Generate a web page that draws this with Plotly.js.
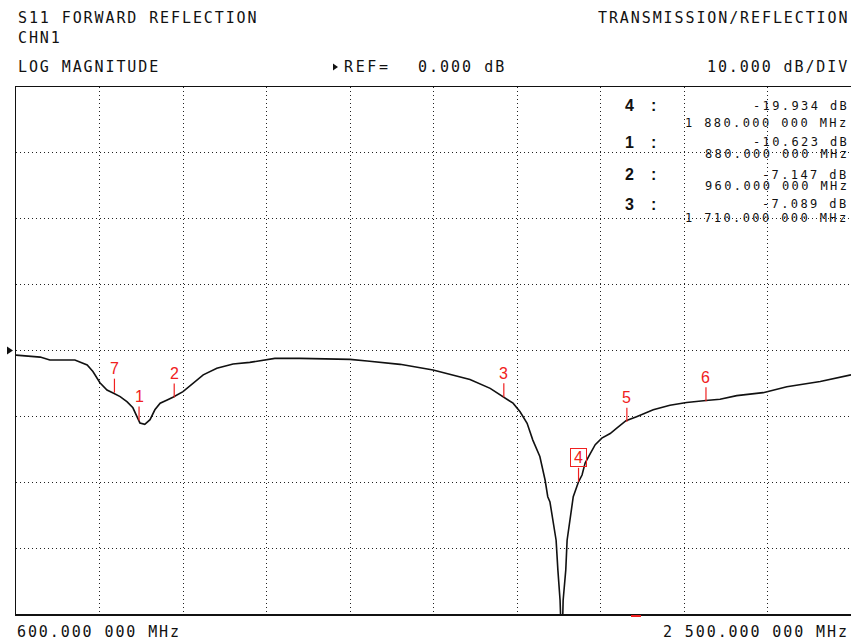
<!DOCTYPE html>
<html><head><meta charset="utf-8">
<script src="https://cdn.plot.ly/plotly-3.0.1.min.js"></script>
<style>body{margin:0;background:#fff}</style>
</head><body><div id="chart" style="width:851px;height:643px"></div>
<script>
// ---- data ----
const freqMHz = [600,655,677,734,762,775,791,807,821,837,853,866,875,882,893,905,916,928,944,957,980,1003,1026,1057,1094,1132,1171,1189,1246,1360,1399,1474,1549,1633,1679,1708,1731,1747,1763,1776,1792,1804,1810,1815,1829,1833,1838,1842,1845,1851,1854,1868,1880,1888,1895,1907,1918,1933,1952,1967,1988,2012,2050,2088,2126,2170,2202,2240,2300,2354,2430,2500];
const s11dB = [-0.7,-1.0,-1.45,-1.45,-2.2,-3.2,-4.9,-6.0,-6.45,-7.0,-7.8,-8.7,-10.0,-11.0,-11.2,-10.5,-9.0,-8.0,-7.5,-7.1,-6.25,-5.0,-3.7,-2.7,-2.05,-1.8,-1.35,-1.2,-1.2,-1.35,-1.6,-2.1,-2.95,-4.4,-5.75,-7.0,-8.0,-9.3,-11.05,-13.6,-16.1,-19.7,-22.2,-23.0,-28.8,-33.3,-37.9,-46,-37.9,-33.3,-28.8,-22.2,-19.93,-18.9,-17.1,-15.6,-14.3,-13.3,-12.6,-11.8,-10.65,-10.05,-9.0,-8.3,-7.9,-7.6,-7.4,-6.85,-6.4,-5.5,-4.7,-3.7];
const markerIds  = ['7','1','2','3','4','5','6'];
const markerFreq = [824, 880, 960, 1710, 1880, 1990, 2170];
const markerDB   = [-6.4, -10.623, -7.147, -7.089, -19.934, -10.8, -7.7];
const tableIds   = ['4','1','2','3'];
const tableDB    = ['-19.934 dB','-10.623 dB','-7.147 dB','-7.089 dB'];
const tableFreq  = ['1 880.000 000 MHz','880.000 000 MHz','960.000 000 MHz','1 710.000 000 MHz'];
const headerLeft = ['S11 FORWARD REFLECTION','CHN1','LOG MAGNITUDE'];
const headerRight = 'TRANSMISSION/REFLECTION';
const refLabel = 'REF=';
const refValue = '0.000 dB';
const scaleText = '10.000 dB/DIV';
const startLabel = '600.000 000 MHz';
const stopLabel = '2 500.000 000 MHz';

// ---- layout helpers (pixel -> paper) ----
const L = 16, R = 851, T = 87, B = 614;
const px = x => (x - L) / (R - L);
const py = y => (B - y) / (B - T);
const MONO = 'DejaVu Sans Mono';
const RED = '#f02020';
function sp(t, ls){ return '<span style="letter-spacing:' + ls + 'px">' + t + '</span>'; }
function txt(t, x, y, anchor, size, ls, opts){
  return Object.assign({text: sp(t, ls), xref:'paper', yref:'paper', x: px(x), y: py(y),
    xanchor: anchor, yanchor:'middle', showarrow:false,
    font:{family: MONO, size: size, color:'#111'}}, opts||{});
}

const ann = [];
const hdrY = [18, 38, 67];
headerLeft.forEach((t,i)=> ann.push(txt(t, 16, hdrY[i], 'left', 15, 1.9)));
ann.push(txt(headerRight, 851, 18, 'right', 15, 1.9));
ann.push(txt(refLabel, 342, 67, 'left', 15, 2.6));
ann.push(txt(refValue, 416, 67, 'left', 15, 2.0));
ann.push(txt(scaleText, 851, 67, 'right', 15, 1.9));
ann.push(txt(startLabel, 15, 632, 'left', 15, 1.9));
ann.push(txt(stopLabel, 851, 632, 'right', 15, 1.9));

// marker table
const rowY = [105.5, 142, 174.5, 204.5];
const freqY = [123, 154, 186, 217.5];
const boldFont = {family:'Liberation Sans', size:16, color:'#111', weight:'bold'};
tableIds.forEach((id,i)=>{
  ann.push(txt(id, 623, rowY[i], 'left', 15, 0, {font:boldFont}));
  ann.push(txt(':', 649, rowY[i], 'left', 15, 0, {font:boldFont}));
  ann.push(txt(tableDB[i], 851, rowY[i], 'right', 12, 2.4));
  ann.push(txt(tableFreq[i], 851, freqY[i], 'right', 12, 2.4));
});

// markers on trace
const shapes = [];
markerIds.forEach((id,i)=>{
  const active = id === '4';
  ann.push({text:id, xref:'x', yref:'y', x: markerFreq[i], y: markerDB[i], yshift: 24,
    xanchor:'center', yanchor:'middle', showarrow:false,
    font:{family:'Liberation Sans', size:16, color:RED},
    bordercolor: active ? RED : 'rgba(0,0,0,0)', borderwidth: active ? 1 : 0, borderpad: 0,
    width: active ? 15 : undefined, height: active ? 17 : undefined});
  shapes.push({type:'line', xref:'x', yref:'y', x0: markerFreq[i], x1: markerFreq[i],
    ysizemode:'pixel', yanchor: markerDB[i], y0: 0, y1: 14,
    line:{color:RED, width:1.2}});
});

// reference arrow at left, REF arrow in header, red dash below axis
shapes.push({type:'path', xref:'paper', yref:'paper',
  path:`M ${px(7)},${py(346.5)} L ${px(13)},${py(350.5)} L ${px(7)},${py(354.5)} Z`,
  fillcolor:'#111', line:{width:0}});
shapes.push({type:'path', xref:'paper', yref:'paper',
  path:`M ${px(333)},${py(63.5)} L ${px(338)},${py(67)} L ${px(333)},${py(70.5)} Z`,
  fillcolor:'#111', line:{width:0}});
shapes.push({type:'line', xref:'paper', yref:'paper', x0: px(631), x1: px(641), y0: py(616), y1: py(616),
  line:{color:RED, width:2}});

const trace = {x: freqMHz, y: s11dB, type:'scatter', mode:'lines',
  line:{color:'#111', width:1.6}, hoverinfo:'skip'};

const axisCommon = {showticklabels:false, ticks:'', zeroline:false, showgrid:true,
  gridcolor:'#222', gridwidth:1, griddash:'1px,3px', fixedrange:true};

const layout = {
  width:851, height:643, margin:{l:L, r:851-R, t:T, b:643-B},
  paper_bgcolor:'#fff', plot_bgcolor:'#fff', showlegend:false,
  xaxis: Object.assign({}, axisCommon, {range:[600,2500], tick0:600, dtick:190,
    showline:true, mirror:true, linecolor:'#111', linewidth:1.5}),
  yaxis: Object.assign({}, axisCommon, {range:[-40,40], tick0:-40, dtick:10,
    showline:true, mirror:false, linecolor:'#111', linewidth:1.5}),
  annotations: ann, shapes: shapes
};
Plotly.newPlot('chart', [trace], layout, {displayModeBar:false, staticPlot:true});
</script></body></html>
